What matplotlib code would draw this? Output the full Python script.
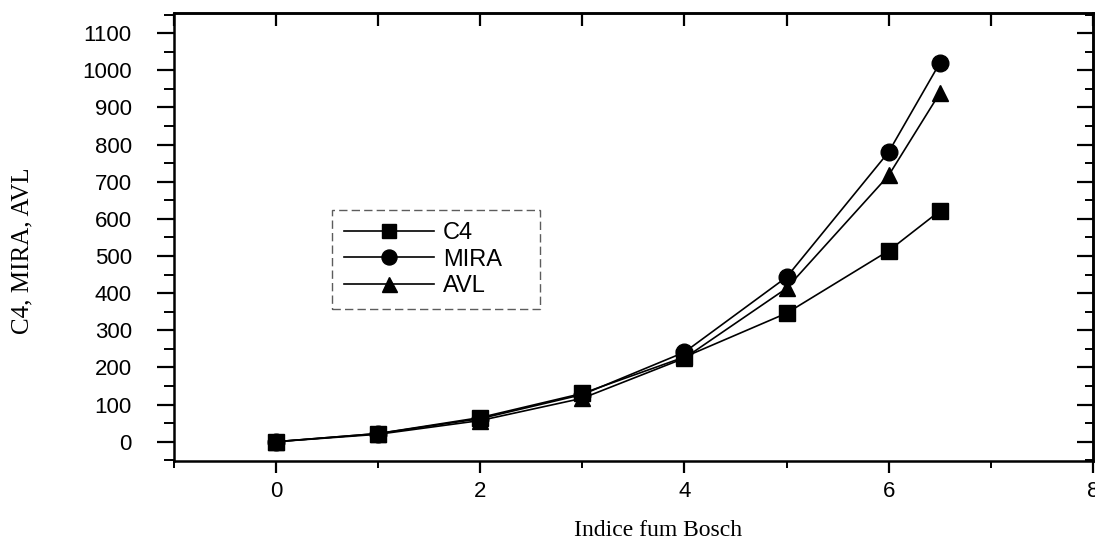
import matplotlib
matplotlib.use("Agg")
import matplotlib.pyplot as plt
from matplotlib.ticker import MultipleLocator

x = [0, 1, 2, 3, 4, 5, 6, 6.5]
c4 = [0, 22, 65, 130, 228, 346, 514, 621]
mira = [0, 22, 62, 127, 241, 443, 780, 1019]
avl = [0, 20, 57, 117, 225, 413, 717, 938]
x_ticks = [0, 2, 4, 6, 8]
y_ticks = list(range(0, 1101, 100))

fig = plt.figure(figsize=(10.95, 5.39), dpi=100)
ax = fig.add_axes([0.159, 0.1447, 0.839, 0.831])

ax.plot(x, c4, '-', color='black', lw=1.2, marker='s', ms=11, label='C4')
ax.plot(x, mira, '-', color='black', lw=1.2, marker='o', ms=12, label='MIRA')
ax.plot(x, avl, '-', color='black', lw=1.2, marker='^', ms=12, label='AVL')

ax.set_xlim(-1, 8)
ax.set_ylim(-52, 1154)
ax.set_xticks(x_ticks)
ax.xaxis.set_minor_locator(MultipleLocator(1))
ax.set_yticks(y_ticks)
ax.yaxis.set_minor_locator(MultipleLocator(50))

for s in ax.spines.values():
    s.set_linewidth(1.8)

ax.tick_params(axis='x', which='major', direction='out', length=8.5, width=1.6,
               top=False, labelsize=16, pad=6)
ax.tick_params(axis='x', which='minor', direction='out', length=5, width=1.4, top=False)
ax.tick_params(axis='y', which='major', direction='out', length=12.5, width=1.6,
               right=False, labelsize=16, pad=18)
ax.tick_params(axis='y', which='minor', direction='out', length=7, width=1.4, right=False)
for lab in ax.get_xticklabels() + ax.get_yticklabels():
    lab.set_family('Liberation Sans')

# inward ticks on top and right
top = ax.secondary_xaxis('top')
top.set_xticks(list(range(-1, 9)))
top.tick_params(axis='x', which='major', direction='in', length=9, width=1.6, labeltop=False)
top.spines['top'].set_linewidth(1.8)
right = ax.secondary_yaxis('right')
right.set_yticks(y_ticks)
right.yaxis.set_minor_locator(MultipleLocator(50))
right.tick_params(axis='y', which='major', direction='in', length=11.5, width=1.6, labelright=False)
right.tick_params(axis='y', which='minor', direction='in', length=6, width=1.4)
right.spines['right'].set_linewidth(1.8)

ax.set_xlabel('Indice fum Bosch', family='Liberation Serif', fontsize=17)
ax.xaxis.set_label_coords(0.527, -0.132)
ax.set_ylabel('C4, MIRA, AVL', family='Liberation Serif', fontsize=18)
ax.yaxis.set_label_coords(-0.153, 0.47)

leg = ax.legend(loc='upper left', bbox_to_anchor=(0.172, 0.0, 0.2263, 0.560),
                mode='expand', handlelength=3.8,
                numpoints=1, fancybox=False, edgecolor='#333333',
                prop={'family': 'Liberation Sans', 'size': 17}, borderpad=0.5,
                labelspacing=0.2, handletextpad=0.4, borderaxespad=0, markerscale=0.9)
leg.get_frame().set_linestyle((0, (6, 3)))
leg.get_frame().set_linewidth(1.0)

fig.savefig('out.png', dpi=100)
